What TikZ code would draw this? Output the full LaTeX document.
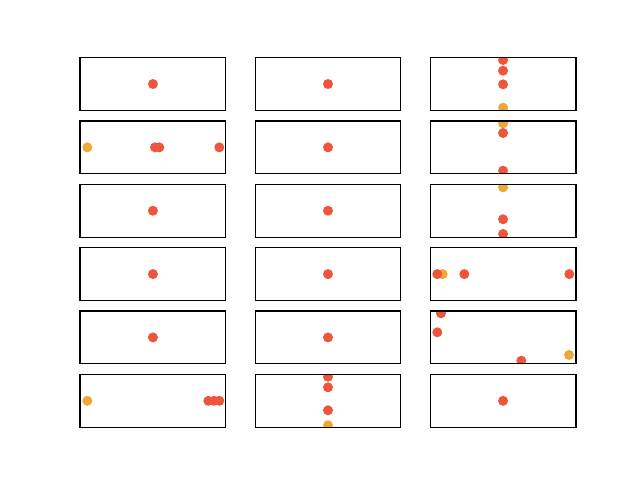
\documentclass[tikz,border=0pt]{standalone}
\usetikzlibrary{calc}
\definecolor{dotred}{HTML}{EE553A}
\definecolor{dotorange}{HTML}{EDA838}
\begin{document}
\begin{tikzpicture}[x=1pt,y=-1pt,
    dot/.style={circle,inner sep=0pt,minimum size=10pt},
    red dot/.style={dot,fill=dotred},
    orange dot/.style={dot,fill=dotorange},
    frame/.style={draw=black,line width=1.1pt}]
\useasboundingbox (0,0) rectangle (640,480);
% panel corners
\foreach \c/\xl in {1/80,2/255.06,3/430.12}
  \foreach \r/\yt in {1/57.6,2/120.96,3/184.32,4/247.68,5/311.04,6/374.4}{
    \coordinate (nw\c\r) at (\xl,\yt);
    \coordinate (se\c\r) at (\xl+145.88,\yt+52.8);
  }
\begin{scope}
  \clip \foreach \c in {1,2,3} { \foreach \r in {1,...,6} { (nw\c\r) rectangle (se\c\r) } };
  % single dots at the centre
  \foreach \c/\r in {1/1,2/1,2/2,1/3,2/3,1/4,2/4,1/5,2/5,3/6}
    \node[red dot] (m\c\r) at ($(nw\c\r)!0.5!(se\c\r)$) {};
  % column 3
  \node[red dot] (a31) at (503.06,60) {};
  \node[red dot] (b31) at (503.06,70.7) {};
  \node[red dot] (c31) at (503.06,84.3) {};
  \node[orange dot] (o31) at (503.06,107.7) {};
  \node[red dot] (a32) at (503.06,133) {};
  \node[red dot] (b32) at (503.06,170.7) {};
  \node[orange dot] (o32) at (503.06,123.3) {};
  \node[orange dot] (o33) at (503.06,187.3) {};
  \node[red dot] (a33) at (503.06,219.3) {};
  \node[red dot] (b33) at (503.06,234) {};
  \node[orange dot] (o34) at (442.7,274.08) {};
  \node[red dot] (a34) at (437.3,274.08) {};
  \node[red dot] (b34) at (464.3,274.08) {};
  \node[red dot] (c34) at (569.3,274.08) {};
  \node[red dot] (a35) at (441,313.3) {};
  \node[red dot] (b35) at (437.3,332.3) {};
  \node[red dot] (c35) at (521.3,360.7) {};
  \node[orange dot] (o35) at (569,355) {};
  % columns 1 and 2
  \node[orange dot] (o12) at (87.3,147.36) {};
  \node[red dot] (a12) at (155,147.36) {};
  \node[red dot] (b12) at (159.3,147.36) {};
  \node[red dot] (c12) at (219.3,147.36) {};
  \node[orange dot] (o16) at (87.3,400.8) {};
  \node[red dot] (a16) at (208.3,400.8) {};
  \node[red dot] (b16) at (214,400.8) {};
  \node[red dot] (c16) at (219.3,400.8) {};
  \node[red dot] (a26) at (328,376.7) {};
  \node[red dot] (b26) at (328,387.3) {};
  \node[red dot] (c26) at (328,410.3) {};
  \node[orange dot] (o26) at (328,425.3) {};
\end{scope}
% frames
\foreach \c in {1,2,3}
  \foreach \r in {1,...,6}
    \draw[frame] (nw\c\r) rectangle (se\c\r);
\end{tikzpicture}
\end{document}
